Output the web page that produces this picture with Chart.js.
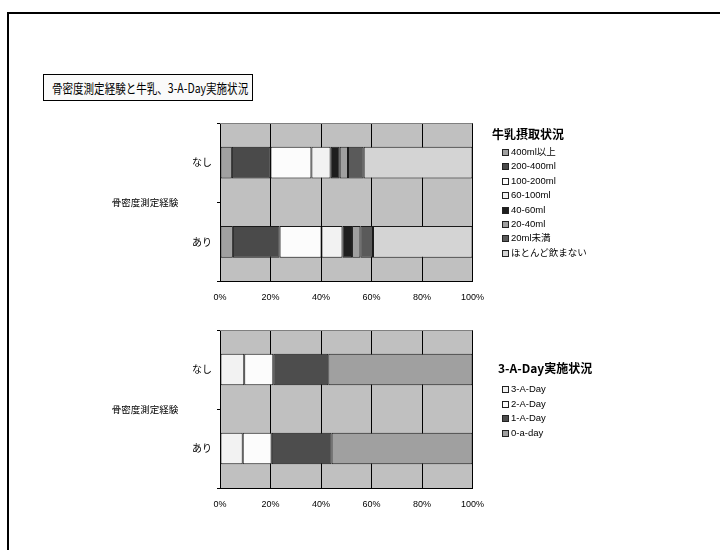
<!DOCTYPE html>
<html lang="ja">
<head>
<meta charset="utf-8">
<title>骨密度測定経験と牛乳、3-A-Day実施状況</title>
<script src="https://cdn.jsdelivr.net/npm/chart.js@4/dist/chart.umd.min.js"></script>
<style>
  html, body { margin: 0; padding: 0; background: #fff; }
  #page { position: relative; width: 720px; height: 550px; overflow: hidden;
          font-family: "Liberation Sans", "Noto Sans CJK JP", sans-serif; color: #000; }
  #frame { position: absolute; left: 7px; top: 12px; right: -10px; bottom: -10px;
           border-left: 2px solid #000; border-top: 2px solid #000; }
  #title { position: absolute; left: 43px; top: 74px; width: 208px; height: 25px;
           border: 1px solid #000; background: #fafafa; overflow: hidden; }
  #title span { position: absolute; left: 8px; top: 0; line-height: 25px; font-size: 13px;
                white-space: nowrap; font-family: "Noto Sans CJK JP", sans-serif;
                transform: scaleX(0.81); transform-origin: 0 50%; }
  canvas { position: absolute; left: 0; }
  .legend { position: absolute; font-family: "Liberation Sans", "Noto Sans CJK JP", sans-serif; }
  .legend .head { position: absolute; left: 0; white-space: nowrap; font-weight: bold;
                  font-size: 12px; line-height: 14px; font-family: "Noto Sans CJK JP", sans-serif; }
  .legend .row { position: absolute; white-space: nowrap; font-size: 9.5px; height: 12px; line-height: 12px; }
  .legend .box { position: absolute; left: 0; top: 3px; width: 5px; height: 5px; border: 1px solid #222; }
  .legend .txt { position: absolute; left: 9px; top: 0; }
</style>
</head>
<body>
<div id="page">
  <div id="frame"></div>
  <div id="title"><span>骨密度測定経験と牛乳、3-A-Day実施状況</span></div>
  <canvas id="milkChart" width="720" height="310" style="top:0;width:720px;height:310px"></canvas>
  <canvas id="dayChart" width="720" height="240" style="top:310px;width:720px;height:240px"></canvas>
  <div id="milkLegend" class="legend"></div>
  <div id="dayLegend" class="legend"></div>
</div>
<script>
// Categories (bone density measurement experience)
const groups = ['なし', 'あり'];
const axisTitle = '骨密度測定経験';
const percentTicks = ['0%', '20%', '40%', '60%', '80%', '100%'];

// Milk intake (% of respondents) — [なし, あり]
const milkTitle = '牛乳摂取状況';
const milkNames = ['400ml以上', '200-400ml', '100-200ml', '60-100ml', '40-60ml', '20-40ml', '20ml未満', 'ほとんど飲まない'];
const milk400plus  = [4.7, 5.1];
const milk200to400 = [15.3, 18.5];
const milk100to200 = [16.2, 16.6];
const milk60to100  = [7.6, 8.3];
const milk40to60   = [3.6, 3.8];
const milk20to40   = [3.3, 3.3];
const milkUnder20  = [6.2, 5.0];
const milkRarely   = [43.1, 39.4];
const milkColors = ['#a0a0a0', '#4a4a4a', '#fcfcfc', '#f2f2f2', '#1e1e1e', '#a0a0a0', '#5a5a5a', '#d4d4d4'];

// 3-A-Day practice (% of respondents) — [なし, あり]
const dayTitle = '3-A-Day実施状況';
const dayNames = ['3-A-Day', '2-A-Day', '1-A-Day', '0-a-day'];
const day3 = [9.6, 9.0];
const day2 = [11.5, 11.5];
const day1 = [21.8, 23.7];
const day0 = [57.1, 55.8];
const dayColors = ['#f2f2f2', '#fcfcfc', '#4d4d4d', '#a0a0a0'];

const CJK = '"Noto Sans CJK JP", sans-serif';

// gray plot background plus a soft top edge
const plotFrame = {
  id: 'plotFrame',
  beforeDraw(chart) {
    const { ctx, chartArea: a } = chart;
    ctx.save();
    ctx.fillStyle = '#c0c0c0';
    ctx.fillRect(a.left, a.top, a.right - a.left, a.bottom - a.top);
    ctx.restore();
  },
  afterDraw(chart) {
    const { ctx, chartArea: a } = chart;
    ctx.save();
    ctx.strokeStyle = '#808080';
    ctx.lineWidth = 1;
    ctx.beginPath();
    ctx.moveTo(a.left, Math.round(a.top) + 0.5);
    ctx.lineTo(a.right, Math.round(a.top) + 0.5);
    ctx.stroke();
    ctx.restore();
  }
};

// horizontal category-axis title to the left of the labels
const sideTitle = {
  id: 'sideTitle',
  afterDraw(chart, args, opts) {
    const { ctx, chartArea: a } = chart;
    ctx.save();
    ctx.font = '9.5px ' + CJK;
    ctx.fillStyle = '#000';
    ctx.textAlign = 'center';
    ctx.textBaseline = 'middle';
    ctx.fillText(opts.text, opts.x, (a.top + a.bottom) / 2);
    ctx.restore();
  }
};

function buildChart(canvasId, names, series, colors, padTop, axisHeight) {
  return new Chart(document.getElementById(canvasId), {
    type: 'bar',
    data: {
      labels: groups,
      datasets: names.map((n, i) => ({
        label: n,
        data: series[i],
        backgroundColor: colors[i],
        borderColor: '#1a1a1a',
        borderWidth: 1,
        borderSkipped: false,
        barPercentage: 0.4,
        categoryPercentage: 1.0
      }))
    },
    options: {
      indexAxis: 'y',
      responsive: false,
      animation: false,
      layout: { padding: { top: padTop, right: 247.5, left: 0, bottom: 0 } },
      plugins: {
        legend: { display: false },
        tooltip: { enabled: false },
        sideTitle: { text: axisTitle, x: 145 }
      },
      scales: {
        x: {
          stacked: true,
          min: 0, max: 100,
          afterFit(scale) { scale.height = axisHeight; },
          afterBuildTicks(scale) {
            scale.ticks = percentTicks.map((t, i) => ({ value: i * 20 }));
          },
          ticks: {
            callback: (v, i) => percentTicks[i],
            color: '#000',
            padding: 11,
            maxRotation: 0,
            font: { size: 9, family: '"Liberation Sans", sans-serif' }
          },
          grid: { color: '#000', lineWidth: 1, drawTicks: false },
          border: { display: true, color: '#000', width: 1 }
        },
        y: {
          stacked: true,
          afterFit(scale) { scale.width = 220; },
          ticks: {
            color: '#000',
            padding: 5,
            font: { size: 10, family: CJK }
          },
          grid: { display: true, drawOnChartArea: false, drawTicks: true, tickLength: 3, offset: true, color: '#000' },
          border: { display: true, color: '#000', width: 1 }
        }
      }
    },
    plugins: [plotFrame, sideTitle]
  });
}

buildChart('milkChart', milkNames,
  [milk400plus, milk200to400, milk100to200, milk60to100, milk40to60, milk20to40, milkUnder20, milkRarely],
  milkColors, 123, 28.5);

buildChart('dayChart', dayNames, [day3, day2, day1, day0], dayColors, 20, 62);

// legends built from the same series names and colours
function buildLegend(id, title, names, colors, left, titleTop, titleLeft, rowTop, rowStep) {
  const el = document.getElementById(id);
  el.style.left = left + 'px';
  el.style.top = '0px';
  const head = document.createElement('div');
  head.className = 'head';
  head.style.top = titleTop + 'px';
  head.style.left = titleLeft + 'px';
  head.textContent = title;
  el.appendChild(head);
  names.forEach((n, i) => {
    const row = document.createElement('div');
    row.className = 'row';
    row.style.top = (rowTop + i * rowStep) + 'px';
    row.style.left = '10px';
    const box = document.createElement('span');
    box.className = 'box';
    box.style.background = colors[i];
    const txt = document.createElement('span');
    txt.className = 'txt';
    txt.textContent = n;
    row.appendChild(box);
    row.appendChild(txt);
    el.appendChild(row);
  });
}

buildLegend('milkLegend', milkTitle, milkNames, milkColors, 492, 127, 0, 146, 14.4);
buildLegend('dayLegend', dayTitle, dayNames, dayColors, 492, 361, 6, 383, 14.5);
</script>
</body>
</html>
